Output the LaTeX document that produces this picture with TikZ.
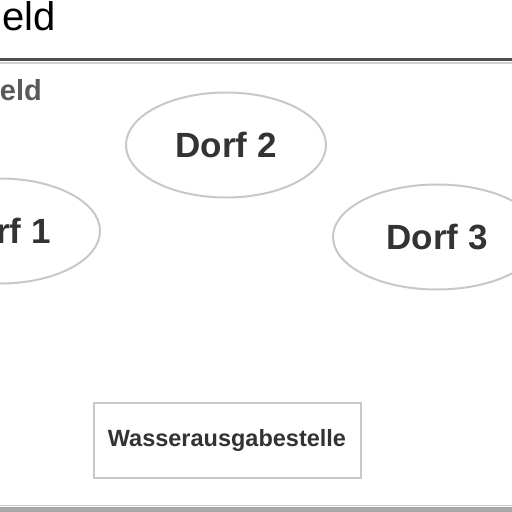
\documentclass[tikz,border=0pt]{standalone}
\usepackage{fontspec}
\setmainfont{Liberation Sans}
\usetikzlibrary{shapes.geometric}
\definecolor{rule}{HTML}{505050}
\definecolor{ruleLight}{HTML}{D0D0D0}
\definecolor{band}{HTML}{A8A8A8}
\definecolor{edge}{HTML}{C8C8C8}
\definecolor{ink}{HTML}{333333}
\definecolor{sub}{HTML}{5A5A5A}
\tikzset{
  dorf/.style={ellipse, draw=edge, line width=2pt, fill=white, minimum width=200pt, minimum height=105pt, inner sep=0pt, text=ink, font=\fontsize{35}{40}\selectfont\bfseries},
  stelle/.style={rectangle, draw=edge, line width=2pt, minimum width=267pt, minimum height=75pt, inner sep=0pt, text=ink, font=\fontsize{23.5}{28}\selectfont\bfseries},
  title/.style={inner sep=0pt, anchor=base east, text=black, font=\fontsize{40}{46}\selectfont},
  subtitle/.style={inner sep=0pt, anchor=base east, text=sub, font=\fontsize{29}{34}\selectfont\bfseries}
}
\begin{document}
\begin{tikzpicture}[x=1pt,y=-1pt]
\useasboundingbox (0,0) rectangle (512,512);
\clip (0,0) rectangle (512,512);
\fill[white] (0,0) rectangle (512,512);
\node[title] (head) at (56,30) {eld};
\draw[rule, line width=3.5pt] (-5,59.5) -- (517,59.5);
\draw[ruleLight, line width=1.5pt] (-5,63) -- (517,63);
\node[subtitle] (sub) at (42,100) {eld};
\node[dorf] (d2) at (226,145) {Dorf 2};
\node[dorf] (d1) at (0,231) {Dorf 1};
\node[dorf, minimum width=208pt] (d3) at (437,237) {Dorf 3};
\node[stelle] (w) at (227,440) {Wasserausgabestelle};
\draw[ruleLight, line width=1.2pt] (-5,505.5) -- (517,505.5);
\fill[band] (-5,507) rectangle (517,513);
\end{tikzpicture}
\end{document}
